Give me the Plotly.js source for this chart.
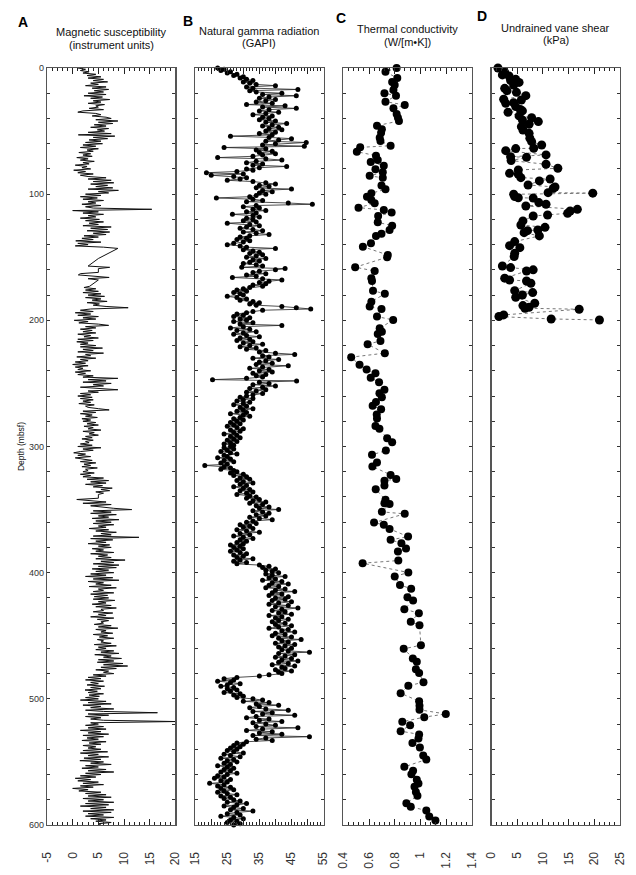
<!DOCTYPE html>
<html>
<head>
<meta charset="utf-8">
<script src="https://cdn.plot.ly/plotly-3.0.1.min.js"></script>
<style>html,body{margin:0;padding:0;background:#fff;}#chart{width:636px;height:875px;}</style>
</head>
<body>
<div id="chart"></div>
<script>
// ---- Panel A: magnetic susceptibility, one value per metre from 0 m (null = no data) ----
const magStartDepth = 0;
const magStepDepth = 1;
const magSusc = [
 1.0, 2.5, 1.5, 3.2, 2.0, 4.5, 2.8, 5.5, 3.0, 6.0, 4.0, 6.8, 3.5, 5.0, 2.5, 6.5, 3.8, 7.0, 4.2, 6.0,
 3.0, 6.5, 2.2, 5.8, 3.5, 7.2, 4.0, 5.5, 3.0, 6.2, 4.5, 5.0, 3.2, 6.0, 2.0, 1.0, 4.5, 5.5, 3.8, 6.5,
 7.5, 4.5, 8.8, 5.0, 7.8, 4.2, 6.5, 3.5, 7.0, 4.8, 6.2, 3.0, 7.5, 1.1, 8.2, 4.0, 6.8, 3.2, 5.5, 2.5,
 5.8, 2.0, 4.5, 1.5, 5.0, 2.8, 4.0, 1.2, 3.5, 2.0, 3.8, 0.8, 3.0, 1.5, 4.2, 2.0, 3.2, 0.5, 2.8, 1.8,
 3.5, 0.2, 2.5, 1.0, 4.0, 1.5, 3.0, 6.5, 3.0, 7.5, 4.0, 8.0, 3.5, 6.8, 4.5, 7.8, 3.0, 8.9, 5.0, 7.0,
 2.5, 5.5, 1.5, 4.8, 2.0, 6.0, 3.0, 4.5, 1.8, 5.5, 2.5, 4.0, 15.4, 0.0, 5.0, 2.0, 6.0, 3.0, 4.5, 1.5,
 5.2, 2.5, 6.0, 3.2, 5.0, 2.0, 7.5, 3.5, 6.8, 2.8, 7.2, 4.0, 6.5, 2.2, 5.0, 1.8, 4.0, 0.6, 5.5, 1.0,
 3.0, 0.5, 6.0, 8.8, null, null, null, null, null, null, null, 5.0, null, null, null, null, null, 3.0, 7.2, 5.0,
 null, null, 5.0, 1.5, 1.1, 4.5, 7.1, 3.0, 5.0, null, null, null, null, 3.3, 2.2, 4.5, 2.5, 5.0, 2.0, 5.5,
 3.0, 6.2, 2.5, 5.5, 3.8, 6.7, 2.8, 5.2, 4.0, 6.5, 10.8, 3.5, 1.5, 4.0, 0.5, 3.5, 1.0, 5.0, 2.0, 4.5,
 0.3, 3.0, 1.2, 5.0, 7.0, 2.5, 4.5, 1.5, 3.8, 2.0, 4.5, 1.0, 3.5, 2.2, 5.0, 1.0, 4.0, 0.8, 3.0, 1.5,
 4.5, 1.5, 5.8, 2.0, 4.0, 1.0, 6.0, 2.5, 3.5, 0.8, 4.5, 1.5, 3.0, 0.5, 2.5, 0.0, 3.0, 0.5, 2.0, 1.0,
 3.5, 0.5, 2.5, 1.0, 4.0, 2.0, 8.8, 3.0, 6.5, 2.0, 7.5, 4.0, 6.0, 1.5, 5.5, 8.8, 3.0, 5.0, 1.5, 3.5,
 1.0, 3.8, 1.5, 4.0, 2.0, 3.5, 1.2, 4.2, 2.5, 3.0, 5.0, 7.1, 2.0, 4.5, 1.5, 3.8, 2.5, 4.8, 1.8, 3.5,
 2.0, 4.5, 2.8, 5.0, 2.2, 4.0, 3.0, 5.5, 2.0, 4.2, 3.2, 5.0, 2.5, 3.8, 1.8, 4.0, 2.5, 3.2, 1.5, 3.8,
 1.0, 5.5, 2.0, 4.0, 1.5, 0.2, 2.5, 1.0, 3.5, 0.5, 2.0, 3.8, 1.5, 4.5, 2.2, 3.5, 1.8, 4.8, 2.5, 3.0,
 2.0, 4.2, 1.5, 3.5, 2.0, 6.0, 2.8, 7.0, 3.5, 6.5, 2.5, 5.8, 4.0, 7.7, 5.5, 7.2, 4.5, 6.0, 5.0, null,
 null, 5.0, 0.8, 3.0, 6.5, 2.0, 7.5, 3.5, 5.5, 8.0, 11.5, 4.0, 7.5, 3.5, 8.5, 5.0, 7.0, 3.8, 9.0, 4.5,
 7.5, 4.0, 8.0, 5.0, 6.5, 3.2, 7.0, 4.5, 8.5, 5.5, 7.5, 4.0, 12.9, 3.5, 7.8, 4.5, 6.5, 3.0, 7.2, 5.0,
 7.5, 3.8, 6.0, 4.5, 8.0, 3.5, 6.8, 5.0, 7.5, 4.5, 10.2, 5.5, 8.0, 4.0, 9.0, 5.0, 8.5, 3.8, 7.0, 4.5,
 8.0, 3.5, 6.5, 2.5, 7.8, 4.0, 9.0, 3.0, 6.0, 4.5, 7.5, 3.2, 8.5, 5.0, 6.0, 4.0, 8.0, 3.5, 6.8, 4.2,
 7.0, 4.0, 8.2, 5.0, 6.5, 3.8, 7.5, 4.5, 8.5, 5.5, 6.0, 4.0, 7.8, 5.0, 6.5, 3.5, 8.0, 4.8, 7.0, 5.5,
 6.0, 4.2, 7.5, 5.0, 8.8, 4.5, 6.5, 5.5, 7.8, 4.0, 6.8, 5.2, 8.0, 4.8, 6.0, 5.5, 7.5, 4.2, 8.5, 5.0,
 6.5, 4.5, 8.0, 5.5, 9.0, 4.3, 7.5, 6.0, 9.5, 5.0, 8.0, 4.8, 9.8, 6.0, 10.7, 5.5, 8.5, 4.5, 7.0, 6.0,
 8.0, 4.0, 6.5, 3.0, 5.5, 2.5, 6.0, 3.5, 5.0, 2.8, 6.2, 3.5, 5.5, 2.4, 4.8, 3.0, 6.0, 3.2, 5.2, 2.5,
 5.0, 1.5, 6.5, 3.0, 7.5, 2.0, 5.5, 3.5, 8.0, 2.5, 6.0, 16.5, 3.0, 7.0, 2.5, 5.5, 3.5, 6.0, 20.0, 3.5,
 5.0, 2.5, 6.0, 3.0, 6.5, 1.5, 5.5, 3.0, 7.0, 2.0, 6.0, 2.8, 5.0, 1.8, 6.5, 3.2, 5.5, 2.0, 4.5, 3.0,
 5.5, 2.0, 6.8, 1.5, 5.0, 3.0, 7.0, 2.2, 5.5, 1.4, 6.0, 3.5, 7.5, 2.5, 5.0, 1.8, 6.5, 3.0, 8.0, 2.5,
 5.5, 1.5, 4.5, 0.5, 3.5, 1.0, 5.0, 2.0, 6.0, 1.5, 4.0, 0.0, 3.0, 1.2, 5.5, 2.5, 6.5, 3.0, 7.5, 2.0,
 6.0, 3.0, 8.0, 2.5, 7.0, 1.5, 6.5, 3.5, 8.0, 2.0, 7.5, 3.0, 6.0, 2.5, 8.0, 3.5, 6.5, 4.5, 7.5, 5.0,
 5.5
];

// ---- Panel B: natural gamma radiation (GAPI), one value per metre from 0 m ----
const gammaStartDepth = 0;
const gammaStepDepth = 1;
const gammaRay = [
 22, 24, 23, 26, 25, 28, 27, 30, 29, 31, 33, 30, 32, 34, 40, 31, 33, 47, 32, 34,
 42, 36, 46.5, 38, 35, 40, 37, 34, 39, 31, 43, 36, 46.5, 38, 35, 41, 37, 33, 39, 36,
 38, 35, 40, 37, 43.5, 39, 36, 41, 38, 42, 37, 40, 35, 39, 26, 38, 45, 41, 37, 49.6,
 40, 36, 49, 24, 37, 34, 39, 35, 40, 36, 33, 22, 37, 42, 34, 31, 36, 33, 43.5, 35,
 31, 33, 28, 18.5, 30, 20, 27, 31, 29, 25, 33, 37, 40, 35, 38, 34, 45, 36, 39, 35,
 37, 34, 32, 21.6, 33, 36, 31, 44, 51.5, 34, 30, 35, 33, 37, 31, 34, 26.6, 33, 35, 31,
 33, 30, 34, 25, 32, 35, 31, 29, 33, 36, 30, 34, 38, 32, 29, 31, 28, 32, 30, 27,
 25, 29, 31, 40, 30, 33, 35, 32, 36, 34, 31, 37, 33, 35, 32, 30, 34, 36, 29.5, 43,
 40, 35, 33, 37, 31, 34, 26.6, 36, 42, 38, 35, 37, 33, 36, 32, 30, 28, 31, 27, 29,
 30, 25, 28, 31, 29, 33, 35, 32, 34, 42, 46.5, 51, 36, 33, 31, 28, 30, 27, 32, 29,
 31, 27, 33, 29, 42, 30, 26, 32, 28, 34, 30, 27, 31, 35, 29, 32, 28, 33, 30, 36,
 32, 29, 34, 31, 37, 35, 40, 46, 36, 38, 33, 41, 37, 35, 39, 34, 44, 36, 32, 38,
 35, 39, 33, 37, 34, 36, 31, 20.4, 46.6, 35, 38, 33, 40, 36, 32, 37, 34, 31, 36, 33,
 31, 29, 33, 30, 28, 32, 30, 27, 31, 29, 33, 30, 28, 31, 26, 30, 32, 29, 27, 30,
 28, 26, 29, 27, 25, 28, 30, 26, 29, 27, 24, 28, 26, 29, 27, 25, 28, 26, 24, 27,
 26, 24, 27, 25, 23, 26, 28, 24, 25, 22, 26, 24, 27, 23, 25, 18, 24, 26, 23, 27,
 28, 26, 30, 27, 31, 29, 32, 28, 30, 33, 29, 31, 27, 30, 32, 29, 33, 31, 28, 32,
 34, 31, 35, 33, 37, 32, 36, 34, 38, 35, 41, 33, 36, 38, 34, 37, 32, 35, 39, 33,
 31, 34, 29, 32, 30, 33, 28, 31, 35, 29, 32, 27, 30, 33, 29, 31, 28, 30, 26, 29,
 27, 30, 28, 26, 29, 31, 27, 30, 28, 33, 29, 27, 31, 28, 35, 38, 36, 40, 37, 39,
 41, 37, 39, 43, 38, 40, 36, 42, 39, 44, 38, 41, 37, 43, 40, 46, 39, 42, 38, 44,
 40, 43, 39, 45, 41, 38, 44, 40, 47, 42, 39, 43, 41, 45, 38, 42, 40, 44, 41, 39,
 43, 40, 45, 41, 38, 44, 42, 46, 40, 43, 39, 45, 41, 48, 42, 44, 40, 46, 43, 41,
 45, 42, 44, 50.6, 41, 46, 43, 40, 45, 42, 47, 41, 44, 39, 46, 42, 43, 40, 45, 41,
 42, 38, 35, 28, 24, 27, 22, 26, 29, 25, 23, 27, 25, 28, 26, 24, 29, 27, 30, 28,
 33, 36, 30, 38, 34, 41, 35, 32, 37, 44, 33, 39, 36, 46, 34, 31, 38, 35, 42, 33,
 37, 40, 34, 47, 36, 31, 39, 35, 42, 33, 50.6, 37, 34, 39, 31, 28, 30, 27, 29, 26,
 28, 25, 27, 30, 24, 26, 29, 23, 27, 25, 28, 24, 26, 22, 25, 27, 24, 26, 23, 28,
 25, 22, 24, 21, 26, 23, 25, 19.5, 24, 22, 26, 23, 27, 24, 22, 25, 28, 23, 26, 24,
 27, 29, 25, 31, 28, 24, 27, 30, 26, 33, 28, 25, 29, 23, 27, 30, 26, 28, 25, 29,
 27
];

// ---- Panel C: thermal conductivity (W/[m*K]) ----
const depthC = [0,3,8,11,13.5,17.4,20,22,26.7,29.3,32,36.5,39.4,42,45.7,48.6,51.3,55.2,57.9,61.6,
 62.9,66.3,69.5,72.9,74.5,77.4,80.3,82.7,85.5,87,93.2,96.1,99.3,102,104.6,107.2,110.7,112.5,114.6,117.3,
 122.3,125,128.4,131.3,133.1,139,141.6,148.2,150,157.9,160.9,166.6,168.8,176.5,179,185.2,189.1,191,197,199.7,
 206.3,209,210.8,216.3,219,226,229.2,235.3,239,241.9,245.6,249,255,257.8,261,264.7,267.8,270.5,274.7,277.9,
 283.7,286,293.5,296.6,303.2,306.6,312.7,315.8,322.5,325.7,327.2,331,333.8,342.3,345,345.5,351.8,353.4,360.3,362.1,
 365.3,371.4,374,376.6,380.9,383.3,390.4,392.5,399.9,403,409.7,412.8,419.4,422,428.9,432.1,439,441.6,457.5,460.4,
 468,470.7,476.5,479.6,486.8,489.7,495.5,502,505.5,508.7,512,514.5,518.2,520.9,525.6,528.2,531.4,535,538.6,544.9,
 548.1,553.9,557,559.7,564.2,567.1,569.7,573.9,576.9,582.7,585.6,588.5,593.2,596.4];
const condC = [0.815,0.728,0.82,0.78,0.80,0.79,0.72,0.81,0.728,0.878,0.79,0.815,0.825,0.833,0.662,0.70,0.694,0.683,0.689,0.768,
 0.531,0.505,0.654,0.668,0.613,0.715,0.65,0.707,0.605,0.707,0.697,0.728,0.618,0.584,0.618,0.644,0.518,0.715,0.776,0.671,
 0.668,0.78,0.76,0.697,0.654,0.615,0.552,0.746,0.741,0.492,0.644,0.618,0.623,0.631,0.723,0.618,0.605,0.697,0.662,0.788,
 0.683,0.70,0.668,0.689,0.589,0.723,0.461,0.526,0.581,0.65,0.613,0.678,0.72,0.681,0.70,0.654,0.628,0.694,0.66,0.662,
 0.65,0.681,0.741,0.78,0.731,0.623,0.662,0.626,0.768,0.812,0.72,0.72,0.652,0.728,0.72,0.76,0.70,0.878,0.639,0.715,
 0.76,0.904,0.768,0.852,0.888,0.825,0.828,0.55,0.906,0.80,0.841,0.928,0.899,0.943,0.875,0.988,0.925,0.993,1.004,0.87,
 0.941,0.972,0.965,0.99,1.024,0.906,0.846,0.99,0.993,0.993,1.198,1.03,0.859,0.92,0.846,0.99,0.985,0.938,0.996,1.022,
 1.046,0.875,0.943,0.93,0.972,0.985,0.954,0.965,0.977,0.891,0.925,1.046,1.069,1.117];

// ---- Panel D: undrained vane shear (kPa) ----
const depthD = [0,3.4,5.5,6.3,9,10,11.4,13.5,16.1,18,19.3,21.9,24.8,25.4,27.5,28,30.6,32.8,34,35.1,
 38,39.4,41.2,42.5,44.6,46.5,49.1,51.8,55.7,58.4,61,63.6,63.9,65.5,68.9,70.3,70.8,73.4,76.3,79.5,
 80.8,83.5,84.2,86.9,88,89.5,92.7,94.3,95.4,98.8,99.2,100.1,101.9,102.8,103.1,106.7,108,109.4,112,113.3,
 115.2,116.5,117.3,121.2,124.4,126.3,128.4,128.9,130.5,133.1,137.6,140.8,142.4,146.9,149.5,156.9,158.2,160,160.9,166.6,
 168,168.8,170.6,176.5,178,179.9,181.7,186.5,188.3,189.6,190.4,191.2,195.7,197,198.9,199.7];
const shearD = [1.24,2.55,2.1,3.4,4.7,3.7,5.35,4.3,2.55,3.0,4.84,6.67,2.35,5.8,4.3,2.75,4.7,5.6,6.0,3.2,
 5.35,7.8,6.0,9.1,7.3,5.8,6.1,7.3,7.45,7.8,9.75,8.2,4.7,2.75,10.6,3.7,6.8,3.8,10.6,12.9,
 5.2,3.5,5.2,5.7,11.4,9.3,7.1,12.35,12.0,11.0,19.7,4.3,4.5,5.2,8.1,9.2,10.6,6.67,16.7,15.3,
 14.8,10.9,8.1,6.1,5.7,10.4,9.0,7.0,6.33,9.3,4.5,3.5,5.5,4.5,4.4,2.1,3.7,8.1,6.8,2.55,
 3.5,6.8,7.65,4.5,8.0,6.0,4.7,8.4,6.1,7.3,6.5,17.05,2.35,1.43,11.6,21.0];

// ---- axis tick labels ----
const ticksA = [-5, 0, 5, 10, 15, 20];
const ticksB = [15, 20, 25, 30, 35, 40, 45, 50, 55];
const tickTextB = ['15', '', '25', '', '35', '', '45', '', '55'];
const ticksC = [0.4, 0.6, 0.8, 1, 1.2, 1.4];
const ticksD = [0, 5, 10, 15, 20, 25];

const FONT = 'Liberation Sans, Arial, Helvetica, sans-serif';
const LINEC = '#555';

const traces = [
  {type:'scatter', mode:'lines', x: magSusc, y0: magStartDepth, dy: magStepDepth,
   connectgaps: true, line:{color:'#111', width:1}, xaxis:'x', yaxis:'y', hoverinfo:'skip'},
  {type:'scatter', mode:'lines+markers', x: gammaRay, y0: gammaStartDepth, dy: gammaStepDepth,
   line:{color:'#222', width:0.8}, marker:{color:'#000', size:5}, xaxis:'x2', yaxis:'y2', cliponaxis:false},
  {type:'scatter', mode:'lines+markers', x: condC, y: depthC,
   line:{color:'#777', width:1, dash:'dot'}, marker:{color:'#000', size:8}, xaxis:'x3', yaxis:'y3', cliponaxis:false},
  {type:'scatter', mode:'lines+markers', x: shearD, y: depthD,
   line:{color:'#777', width:1, dash:'dot'}, marker:{color:'#000', size:9}, xaxis:'x4', yaxis:'y4', cliponaxis:false}
];

function xAxis(domain, range, vals, text, minorDtick, anchor) {
  return {
    domain: domain, range: range, anchor: anchor, side: 'bottom',
    tickmode: 'array', tickvals: vals, ticktext: text,
    ticks: 'inside', ticklen: 6, tickwidth: 1, tickcolor: '#222',
    minor: {ticks: 'inside', ticklen: 3, tickwidth: 1, tickcolor: '#222', tick0: range[0], dtick: minorDtick, showgrid: false},
    tickangle: -90, ticklabelstandoff: 21,
    tickfont: {family: FONT, size: 12, color: '#333'},
    showline: true, linecolor: LINEC, linewidth: 1.2, mirror: 'ticks',
    showgrid: false, zeroline: false, fixedrange: true
  };
}
function yAxis(anchor, showLabels) {
  const ax = {
    anchor: anchor, range: [600, 0], autorange: false,
    tickmode: 'linear', tick0: 0, dtick: 100,
    ticks: 'inside', ticklen: 3, tickwidth: 1, tickcolor: '#333',
    minor: {ticks: 'inside', ticklen: 3, tickwidth: 1, tickcolor: '#333', dtick: 20, tick0: 0, showgrid: false},
    showticklabels: showLabels, tickfont: {family: FONT, size: 9, color: '#333'},
    showline: true, linecolor: LINEC, linewidth: 1.2, mirror: 'ticks',
    showgrid: false, zeroline: false, fixedrange: true
  };
  if (showLabels) ax.title = {text: 'Depth (mbsf)', font: {family: FONT, size: 8.5, color: '#111'}, standoff: 3};
  return ax;
}

const dA = [0, 0.2241], dB = [0.2586, 0.4827], dC = [0.5172, 0.7413], dD = [0.7759, 1];
const topY = px => 1 + (68 - px) / 757;

const ann = [];
function titleLines(domain, l1, l2, y1, y2) {
  const cx = (domain[0] + domain[1]) / 2;
  ann.push({xref:'paper', yref:'paper', x: cx, y: topY(y1), xanchor:'center', yanchor:'middle', showarrow:false,
            text: l1, font:{family: FONT, size: 11, color:'#111'}});
  ann.push({xref:'paper', yref:'paper', x: cx, y: topY(y2), xanchor:'center', yanchor:'middle', showarrow:false,
            text: l2, font:{family: FONT, size: 11, color:'#111'}});
}
titleLines(dA, 'Magnetic susceptibility', '(instrument units)', 32, 44.5);
titleLines(dB, 'Natural gamma radiation', '(GAPI)', 31, 43.5);
titleLines(dC, 'Thermal conductivity', '(W/[m•K])', 29.5, 42);
titleLines(dD, 'Undrained vane shear', '(kPa)', 27.5, 40);
const letters = [['A', 23, 22.5], ['B', 188, 20.5], ['C', 341, 18], ['D', 482, 16.5]];
letters.forEach(l => ann.push({xref:'paper', yref:'paper', x: (l[1] - 47) / 573, y: topY(l[2]),
  xanchor:'center', yanchor:'middle', showarrow:false, text: '<b>' + l[0] + '</b>',
  font:{family: FONT, size: 14, color:'#000'}}));

const layout = {
  width: 636, height: 875,
  margin: {l: 47, r: 16, t: 68, b: 50, pad: 0},
  paper_bgcolor: '#fff', plot_bgcolor: '#fff',
  showlegend: false,
  font: {family: FONT, color: '#222'},
  xaxis: xAxis(dA, [-5, 20], ticksA, ticksA.map(String), 1, 'y'),
  xaxis2: xAxis(dB, [15, 55], ticksB, tickTextB, 1, 'y2'),
  xaxis3: xAxis(dC, [0.4, 1.4], ticksC, ticksC.map(String), 0.04, 'y3'),
  xaxis4: xAxis(dD, [0, 25], ticksD, ticksD.map(String), 1, 'y4'),
  yaxis: yAxis('x', true),
  yaxis2: yAxis('x2', false),
  yaxis3: yAxis('x3', false),
  yaxis4: yAxis('x4', false),
  annotations: ann
};

Plotly.newPlot('chart', traces, layout, {staticPlot: true, displayModeBar: false});
</script>
</body>
</html>
